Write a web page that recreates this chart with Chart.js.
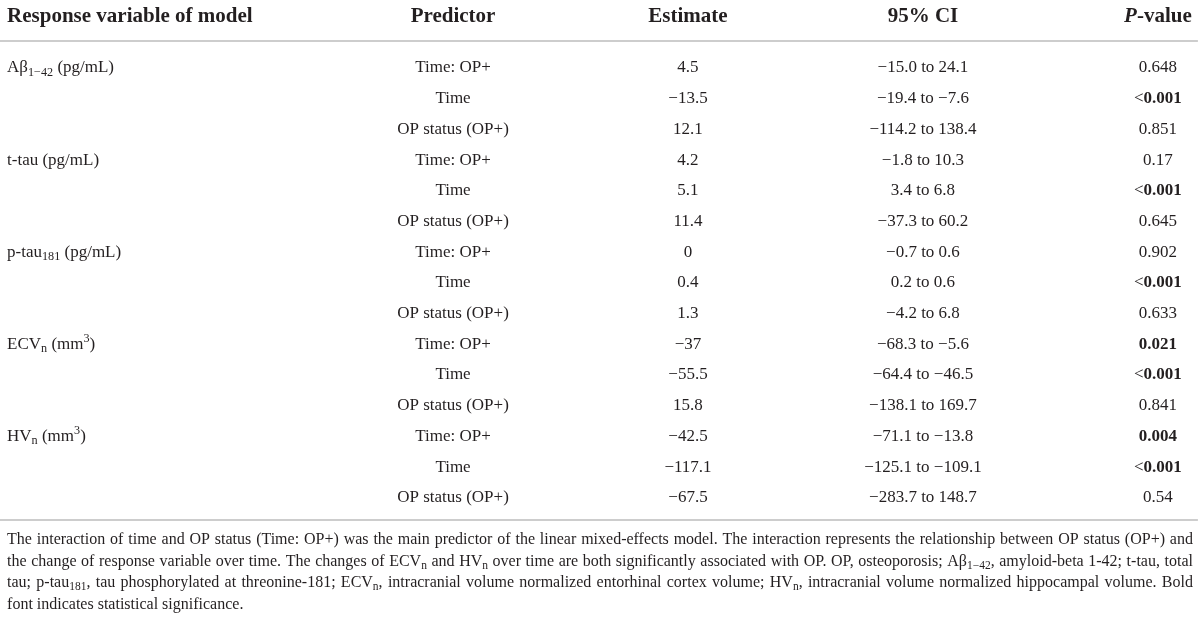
<!DOCTYPE html>
<html>
<head>
<meta charset="utf-8">
<script src="https://cdn.jsdelivr.net/npm/chart.js@4.4.0/dist/chart.umd.min.js"></script>
<style>
  html, body { margin: 0; padding: 0; background: #fff; }
  canvas { display: block; }
</style>
</head>
<body>
<canvas id="tableChart" width="1200" height="621"></canvas>
<script>
        // table content
        const headers = ['Response variable of model', 'Predictor', 'Estimate', '95% CI', '*P*-value'];
        const responseVars = ['Aβ_{1−42} (pg/mL)', 't-tau (pg/mL)', 'p-tau_{181} (pg/mL)', 'ECV_{n} (mm^{3})', 'HV_{n} (mm^{3})'];
        const predictors = ['Time: OP+', 'Time', 'OP status (OP+)'];
        const estimates = [4.5, -13.5, 12.1, 4.2, 5.1, 11.4, 0, 0.4, 1.3, -37, -55.5, 15.8, -42.5, -117.1, -67.5];
        const ciLow = [-15.0, -19.4, -114.2, -1.8, 3.4, -37.3, -0.7, 0.2, -4.2, -68.3, -64.4, -138.1, -71.1, -125.1, -283.7];
        const ciHigh = [24.1, -7.6, 138.4, 10.3, 6.8, 60.2, 0.6, 0.6, 6.8, -5.6, -46.5, 169.7, -13.8, -109.1, 148.7];
        const pValues = ['0.648', '<0.001', '0.851', '0.17', '<0.001', '0.645', '0.902', '<0.001', '0.633',
                         '0.021', '<0.001', '0.841', '0.004', '<0.001', '0.54'];
        const notes = [
            'The interaction of time and OP status (Time: OP+) was the main predictor of the linear mixed-effects model. The interaction represents the relationship between OP status (OP+) and',
            'the change of response variable over time. The changes of ECV_{n} and HV_{n} over time are both significantly associated with OP. OP, osteoporosis; Aβ_{1−42}, amyloid-beta 1-42; t-tau, total',
            'tau; p-tau_{181}, tau phosphorylated at threonine-181; ECV_{n}, intracranial volume normalized entorhinal cortex volume; HV_{n}, intracranial volume normalized hippocampal volume. Bold',
            'font indicates statistical significance.'
        ];

        // layout, in scale units (x: column, y: row)
        const colX = [-0.898, 1, 2, 3, 4];
        const headerRow = -1.69;
        const ruleRows = [-0.85, 14.76];
        const ruleEnd = 4.17;
        const noteRows = [15.38, 16.08, 16.78, 17.48];
        const noteEnd = 4.149;
        const FONT = '"Liberation Serif", "DejaVu Serif", serif';
        const INK = '#231f20';

        function fmt(v, digits) {
            const s = digits === undefined ? String(v) : v.toFixed(digits);
            return s.replace('-', '−');
        }

        function markP(p) {
            if (p.startsWith('<')) return '<**' + p.slice(1) + '**';
            return parseFloat(p) < 0.05 ? '**' + p + '**' : p;
        }

        // build cells
        const cells = [];
        headers.forEach((h, i) => cells.push({ x: colX[i], y: headerRow, text: h, size: 21, bold: true, align: i === 0 ? 'left' : 'center' }));
        estimates.forEach((est, r) => {
            if (r % 3 === 0) {
                cells.push({ x: colX[0], y: r, text: responseVars[r / 3], size: 17, align: 'left' });
            }
            cells.push({ x: colX[1], y: r, text: predictors[r % 3], size: 17, align: 'center' });
            cells.push({ x: colX[2], y: r, text: fmt(est), size: 17, align: 'center' });
            cells.push({ x: colX[3], y: r, text: fmt(ciLow[r], 1) + ' to ' + fmt(ciHigh[r], 1), size: 17, align: 'center' });
            cells.push({ x: colX[4], y: r, text: markP(pValues[r]), size: 17, align: 'center' });
        });
        notes.forEach((n, i) => cells.push({ x: colX[0], y: noteRows[i], text: n, size: 16, align: 'left', justify: i < notes.length - 1 }));

        function parseRich(str) {
            const segs = [];
            const re = /_\{([^}]*)\}|\^\{([^}]*)\}|\*\*([^*]*)\*\*|\*([^*]*)\*|([^_^*]+)/g;
            let m;
            while ((m = re.exec(str))) {
                if (m[1] !== undefined) segs.push({ t: m[1], sub: true });
                else if (m[2] !== undefined) segs.push({ t: m[2], sup: true });
                else if (m[3] !== undefined) segs.push({ t: m[3], bold: true });
                else if (m[4] !== undefined) segs.push({ t: m[4], italic: true });
                else segs.push({ t: m[5] });
            }
            return segs;
        }

        function segFont(seg, size, bold) {
            const s = (seg.sub || seg.sup) ? size * 0.72 : size;
            return (seg.italic ? 'italic ' : '') + ((seg.bold || bold) ? 'bold ' : '') + s.toFixed(1) + 'px ' + FONT;
        }

        function drawCell(ctx, cell, px, py, endPx) {
            const segs = parseRich(cell.text);
            let width = 0;
            let spaces = 0;
            segs.forEach(seg => {
                ctx.font = segFont(seg, cell.size, cell.bold);
                width += ctx.measureText(seg.t).width;
                spaces += (seg.t.match(/ /g) || []).length;
            });
            let gap = 0;
            if (cell.justify && spaces) gap = (endPx - px - width) / spaces;
            let x = cell.align === 'center' ? px - width / 2 : px;
            const base = py + cell.size * 0.32;
            ctx.textAlign = 'left';
            ctx.textBaseline = 'alphabetic';
            ctx.fillStyle = INK;
            segs.forEach(seg => {
                ctx.font = segFont(seg, cell.size, cell.bold);
                let y = base;
                if (seg.sub) y += cell.size * 0.2;
                if (seg.sup) y -= cell.size * 0.38;
                const parts = seg.t.split(' ');
                parts.forEach((part, k) => {
                    ctx.fillText(part, x, y);
                    x += ctx.measureText(part).width;
                    if (k < parts.length - 1) x += ctx.measureText(' ').width + gap;
                });
            });
        }

        const tablePlugin = {
            id: 'tableText',
            afterDatasetsDraw(chart) {
                const ctx = chart.ctx;
                const xs = chart.scales.x;
                const ys = chart.scales.y;
                ctx.save();
                ctx.strokeStyle = '#cdcdcd';
                ctx.lineWidth = 2;
                ruleRows.forEach(r => {
                    const y = ys.getPixelForValue(r);
                    ctx.beginPath();
                    ctx.moveTo(chart.chartArea.left, y);
                    ctx.lineTo(xs.getPixelForValue(ruleEnd), y);
                    ctx.stroke();
                });
                const meta = chart.getDatasetMeta(0);
                const endPx = xs.getPixelForValue(noteEnd);
                meta.data.forEach((pt, i) => drawCell(ctx, cells[i], pt.x, pt.y, endPx));
                ctx.restore();
            }
        };

        const tableChart = new Chart(document.getElementById('tableChart'), {
            type: 'scatter',
            data: {
                datasets: [{
                    data: cells.map(c => ({ x: c.x, y: c.y })),
                    pointRadius: 0,
                    pointHoverRadius: 0
                }]
            },
            options: {
                responsive: false,
                animation: false,
                events: [],
                layout: { padding: 0 },
                plugins: { legend: { display: false }, tooltip: { enabled: false } },
                scales: {
                    x: { type: 'linear', min: -0.928, max: 4.179, display: false },
                    y: { type: 'linear', min: -2.182, max: 18.046, reverse: true, display: false }
                }
            },
            plugins: [tablePlugin]
        });
</script>
</body>
</html>
